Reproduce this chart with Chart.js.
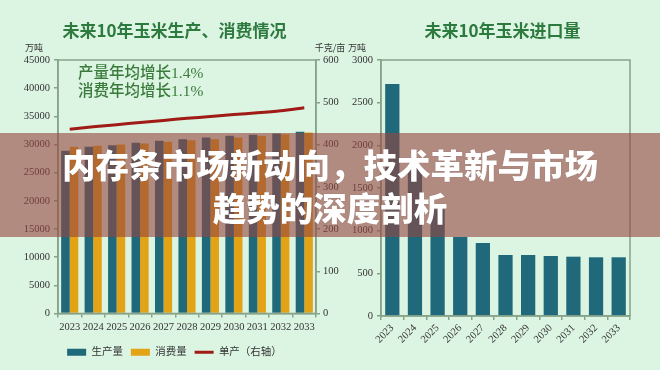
<!DOCTYPE html>
<html>
<head>
<meta charset="utf-8">
<script src="https://cdn.jsdelivr.net/npm/chart.js@4.4.1/dist/chart.umd.min.js"></script>
<style>
  body { margin: 0; background: #dcf4e2; }
  #wrap { position: relative; width: 660px; height: 370px; overflow: hidden; }
  #c1 { position: absolute; left: 0; top: 0; }
  #c2 { position: absolute; left: 345px; top: 0; }
  #band {
    position: absolute; left: 0; top: 133px; width: 660px; height: 104px;
    background: rgba(150, 68, 64, 0.6);
    display: flex; align-items: center; justify-content: center; text-align: center;
    color: #fff; font: 900 33.5px/43px "Noto Sans CJK SC", sans-serif;
    text-shadow: 0 0 1px rgba(0, 0, 0, 0.3);
  }
</style>
</head>
<body>
<div id="wrap">
  <canvas id="c1" width="345" height="370"></canvas>
  <canvas id="c2" width="315" height="370"></canvas>
  <div id="band">内存条市场新动向，技术革新与市场<br>趋势的深度剖析</div>
</div>
<script>
// data
const years = ['2023', '2024', '2025', '2026', '2027', '2028', '2029', '2030', '2031', '2032', '2033'];
const production = [28870, 29580, 29880, 30290, 30650, 30950, 31250, 31540, 31720, 31960, 32250];
const consumption = [29580, 29760, 30000, 30180, 30470, 30770, 30950, 31250, 31540, 31840, 32130];
const yieldPerMu = [436, 442, 447, 452, 457, 462, 466, 471, 475, 480, 487];
const imports = [2720, 1750, 1250, 925, 855, 715, 715, 703, 695, 688, 688];
const notes = ['产量年均增长1.4%', '消费年均增长1.1%'];

const TEAL = '#1f697a';
const GOLD = '#e2a316';
const RED = '#a01a16';
const GREEN = '#2d7a3e';
const AXIS = '#86a28a';
const SERIF = '"Liberation Serif", "Noto Sans CJK SC", serif';
const CJK = '"Noto Sans CJK SC", sans-serif';

// box round the plot area plus the small unit labels / notes
const extras = {
  id: 'extras',
  afterDatasetsDraw(chart, args, opts) {
    const a = chart.chartArea;
    const ctx = chart.ctx;
    ctx.save();
    ctx.strokeStyle = AXIS;
    ctx.lineWidth = 1.5;
    ctx.strokeRect(a.left, a.top, a.right - a.left, a.bottom - a.top);
    ctx.fillStyle = '#333';
    ctx.font = '9px ' + CJK;
    ctx.textAlign = 'center';
    ctx.textBaseline = 'middle';
    (opts.units || []).forEach(u => {
      const x = u.side == 'left' ? a.left - 24 : a.right + 14;
      ctx.fillText(u.text, x, a.top - 12);
    });
    if (opts.notes) {
      ctx.fillStyle = '#3a7b3c';
      ctx.font = '500 15.5px ' + SERIF;
      ctx.textAlign = 'left';
      opts.notes.forEach((t, i) => ctx.fillText(t, a.left + 20, a.top + 14 + i * 18));
    }
    ctx.restore();
  }
};

const titleOpts = text => ({
  display: true, text: text, color: GREEN,
  font: { family: CJK, size: 17, weight: 'bold' },
  padding: { top: 20, bottom: 19.6 }
});
const gridOpts = { display: true, drawOnChartArea: false, tickLength: 4, color: AXIS, lineWidth: 1.5 };
const borderOpts = { color: AXIS, width: 1.5 };
const tickFont = { family: SERIF, size: 10.5 };
const plain = v => String(v);

new Chart(document.getElementById('c1'), {
  data: {
    labels: years,
    datasets: [
      { type: 'bar', label: '生产量', data: production, backgroundColor: TEAL, pointStyle: 'rect',
        barPercentage: 1, categoryPercentage: 0.73, yAxisID: 'y' },
      { type: 'bar', label: '消费量', data: consumption, backgroundColor: GOLD, pointStyle: 'rect',
        barPercentage: 1, categoryPercentage: 0.73, yAxisID: 'y' },
      { type: 'line', label: '单产（右轴）', data: yieldPerMu, borderColor: RED, backgroundColor: RED,
        borderWidth: 3, pointRadius: 0, pointStyle: 'line', tension: 0.3, yAxisID: 'y1' }
    ]
  },
  options: {
    responsive: false,
    animation: false,
    layout: { padding: { left: 4, right: 0, top: 0, bottom: 2.5 } },
    plugins: {
      title: titleOpts('未来10年玉米生产、消费情况'),
      legend: {
        position: 'bottom',
        labels: {
          usePointStyle: true, pointStyleWidth: 19, boxHeight: 7, padding: 8,
          color: '#333', font: { family: SERIF, size: 10.5 },
          sort: (a, b) => a.datasetIndex - b.datasetIndex
        }
      },
      tooltip: { enabled: false },
      extras: { units: [{ side: 'left', text: '万吨' }, { side: 'right', text: '千克/亩' }], notes: notes }
    },
    scales: {
      x: {
        grid: gridOpts, border: borderOpts,
        ticks: { autoSkip: false, maxRotation: 0, color: '#333', font: tickFont, padding: 3 },
        afterFit(s) { s.height = 25.5; }
      },
      y: {
        position: 'left', min: 0, max: 45000,
        grid: gridOpts, border: borderOpts,
        ticks: { stepSize: 5000, color: '#333', font: tickFont, padding: 4, callback: plain },
        afterFit(s) { s.width = 54; }
      },
      y1: {
        position: 'right', min: 0, max: 600,
        grid: gridOpts, border: borderOpts,
        ticks: { stepSize: 100, color: '#333', font: tickFont, padding: 3, callback: plain },
        afterFit(s) { s.width = 29; }
      }
    }
  },
  plugins: [extras]
});

new Chart(document.getElementById('c2'), {
  type: 'bar',
  data: {
    labels: years,
    datasets: [{ label: '进口量', data: imports, backgroundColor: TEAL, barPercentage: 0.63, categoryPercentage: 1 }]
  },
  options: {
    responsive: false,
    animation: false,
    layout: { padding: 0 },
    plugins: {
      title: titleOpts('未来10年玉米进口量'),
      legend: { display: false },
      tooltip: { enabled: false },
      extras: { units: [{ side: 'left', text: '万吨' }] }
    },
    scales: {
      x: {
        grid: gridOpts, border: borderOpts,
        ticks: { autoSkip: false, minRotation: 45, maxRotation: 45, color: '#333', font: tickFont, padding: 2 },
        afterFit(s) { s.height = 54; }
      },
      y: {
        position: 'left', min: 0, max: 3000,
        grid: gridOpts, border: borderOpts,
        ticks: { stepSize: 500, color: '#333', font: tickFont, padding: 4, callback: plain },
        afterFit(s) { s.width = 36; }
      },
      pad: {
        position: 'right', display: true,
        grid: { display: false }, border: { display: false }, ticks: { display: false },
        afterFit(s) { s.width = 30; }
      }
    }
  },
  plugins: [extras]
});
</script>
</body>
</html>
